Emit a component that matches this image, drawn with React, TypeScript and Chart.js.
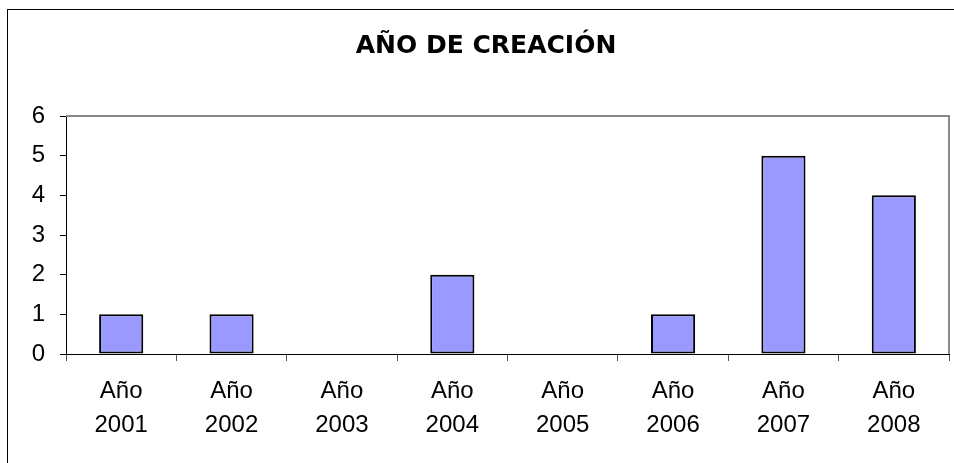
import React, { useEffect, useRef } from "react";
import { Chart, registerables } from "chart.js";

Chart.register(...registerables);

const TITLE = "AÑO DE CREACIÓN";
const CATEGORY_PREFIX = "Año";
const YEARS = ["2001", "2002", "2003", "2004", "2005", "2006", "2007", "2008"];
const COUNTS = [1, 1, 0, 2, 0, 1, 5, 4];
const Y_MIN = 0;
const Y_MAX = 6;
const Y_STEP = 1;

const CANVAS_W = 956;
const CANVAS_H = 470;

const plotFrame = {
  id: "plotFrame",
  afterDatasetsDraw(chart: any) {
    const { ctx, chartArea } = chart;
    const { left, top, right, bottom } = chartArea;
    ctx.save();
    ctx.strokeStyle = "#8a8a8a";
    ctx.lineWidth = 2;
    ctx.beginPath();
    ctx.moveTo(left, top);
    ctx.lineTo(right, top);
    ctx.lineTo(right, bottom);
    ctx.stroke();
    ctx.restore();
  },
};

export default function App() {
  const ref = useRef<HTMLCanvasElement | null>(null);

  useEffect(() => {
    if (!ref.current) return;
    const labels = YEARS.map((y) => [CATEGORY_PREFIX, y]);
    const chart = new Chart(ref.current, {
      type: "bar",
      data: {
        labels,
        datasets: [
          {
            data: COUNTS,
            backgroundColor: "#9999FF",
            borderColor: "#000000",
            borderWidth: 2,
            borderSkipped: false,
            categoryPercentage: 0.8,
            barPercentage: 0.5,
          },
        ],
      },
      options: {
        responsive: false,
        animation: false,
        devicePixelRatio: 1,
        layout: { padding: { left: 15, right: 15, top: 0, bottom: 0 } },
        plugins: {
          legend: { display: false },
          tooltip: { enabled: false },
          title: {
            display: true,
            text: TITLE,
            color: "#000000",
            font: { family: "DejaVu Sans", size: 25, weight: "bold", lineHeight: 1.2 },
            padding: { top: 21, bottom: 55 },
          },
        },
        scales: {
          x: {
            grid: {
              display: true,
              drawOnChartArea: false,
              tickLength: 7,
              color: "#555555",
              offset: true,
            },
            border: { display: true, color: "#000000", width: 1 },
            ticks: {
              color: "#000000",
              font: { family: "Liberation Sans", size: 24, lineHeight: 1.42 },
              padding: 13,
              maxRotation: 0,
              autoSkip: false,
            },
            afterFit(scale: any) {
              scale.height = 126;
            },
          },
          y: {
            min: Y_MIN,
            max: Y_MAX,
            grid: {
              display: true,
              drawOnChartArea: false,
              tickLength: 6,
              color: "#000000",
            },
            border: { display: true, color: "#000000", width: 1 },
            ticks: {
              stepSize: Y_STEP,
              color: "#000000",
              font: { family: "Liberation Sans", size: 24 },
              padding: 15,
            },
            afterFit(scale: any) {
              scale.width = 43;
            },
          },
        },
      },
      plugins: [plotFrame],
    });
    return () => chart.destroy();
  }, []);

  return (
    <div style={{ position: "fixed", left: 0, top: 0, width: 954, height: 463, overflow: "hidden", background: "#fff" }}>
      <div
        style={{
          position: "absolute",
          left: 7,
          top: 9,
          width: CANVAS_W,
          height: CANVAS_H,
          border: "1px solid #000",
          background: "#fff",
        }}
      >
        <canvas ref={ref} width={CANVAS_W} height={CANVAS_H} style={{ display: "block" }} />
      </div>
    </div>
  );
}
